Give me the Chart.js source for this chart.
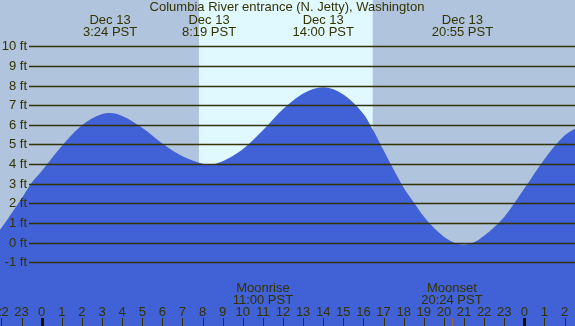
<!DOCTYPE html>
<html>
<head>
<meta charset="utf-8">
<script src="https://cdn.jsdelivr.net/npm/chart.js@4"></script>
<style>
html,body{margin:0;padding:0;background:#b0c4de;}
#wrap{width:575px;height:326px;position:relative;}
</style>
</head>
<body>
<div id="wrap"><canvas id="c" width="575" height="326"></canvas></div>
<script>
// ---- data ----
const title = "Columbia River entrance (N. Jetty), Washington";
const hours = [-2.1, -2, -1.5, -1, -0.5, 0, 1, 2, 3, 3.4, 4, 5, 6, 7, 8, 8.32, 9, 10, 11, 12, 13, 14, 15, 16, 16.5, 17, 17.5, 18, 18.5, 19, 19.5, 20, 20.5, 20.93, 21.5, 22, 22.5, 23, 23.5, 24, 25, 26, 26.6];
const heights = [0.62, 0.75, 1.5, 2.25, 3.05, 3.65, 4.92, 5.98, 6.55, 6.6, 6.45, 5.85, 5.05, 4.4, 4.02, 3.98, 4.15, 4.75, 5.72, 6.8, 7.6, 7.92, 7.55, 6.55, 5.7, 4.7, 3.72, 2.8, 2.06, 1.33, 0.75, 0.3, 0.0, -0.1, 0.02, 0.35, 0.78, 1.3, 2.0, 2.75, 4.25, 5.45, 5.85];
const yTicks = [-1, 0, 1, 2, 3, 4, 5, 6, 7, 8, 9, 10];
const hourTicks = [-2, -1, 0, 1, 2, 3, 4, 5, 6, 7, 8, 9, 10, 11, 12, 13, 14, 15, 16, 17, 18, 19, 20, 21, 22, 23, 24, 25, 26];
const eventHours = [3.4, 8.32, 14.0, 20.92];
const eventDates = ["Dec 13", "Dec 13", "Dec 13", "Dec 13"];
const eventTimes = ["3:24 PST", "8:19 PST", "14:00 PST", "20:55 PST"];
const dayStart = 7.82, dayEnd = 16.46;
const moonHours = [11.0, 20.4];
const moonNames = ["Moonrise", "Moonset"];
const moonTimes = ["11:00 PST", "20:24 PST"];

const FONT = '13px "Liberation Sans", Arial, sans-serif';
const TXT = '#333300';

const deco = {
  id: 'deco',
  beforeDatasetsDraw(chart) {
    const {ctx, chartArea: a, scales: {x}} = chart;
    ctx.save();
    ctx.fillStyle = '#b0c4de';
    ctx.fillRect(a.left, a.top, a.right - a.left, a.bottom - a.top);
    const x0 = x.getPixelForValue(dayStart), x1 = x.getPixelForValue(dayEnd);
    ctx.fillStyle = '#e0f8ff';
    ctx.fillRect(x0, a.top, x1 - x0, a.bottom - a.top);
    ctx.restore();
  },
  afterDatasetsDraw(chart) {
    const {ctx, chartArea: a, scales: {x, y}} = chart;
    ctx.save();
    ctx.font = FONT;
    ctx.fillStyle = TXT;
    ctx.strokeStyle = TXT;
    ctx.lineWidth = 1.5;
    ctx.textAlign = 'right';
    ctx.textBaseline = 'middle';
    yTicks.forEach(v => {
      const py = Math.round(y.getPixelForValue(v)) + 0.5;
      ctx.beginPath();
      ctx.moveTo(29, py);
      ctx.lineTo(a.right, py);
      ctx.stroke();
      ctx.fillText(v + ' ft', 27, py);
    });
    ctx.textAlign = 'center';
    ctx.fillText(title, 287, 7.5);
    eventHours.forEach((h, i) => {
      const px = x.getPixelForValue(h);
      ctx.fillText(eventDates[i], px, 20);
      ctx.fillText(eventTimes[i], px, 32);
    });
    moonHours.forEach((h, i) => {
      const px = x.getPixelForValue(h);
      ctx.fillText(moonNames[i], px, 288);
      ctx.fillText(moonTimes[i], px, 300);
      ctx.fillStyle = '#9a6a3a';
      ctx.fillRect(Math.round(px), 318, 1, 8);
      ctx.fillStyle = TXT;
    });
    hourTicks.forEach(h => {
      const px = x.getPixelForValue(h);
      const lab = String(((h % 24) + 24) % 24);
      ctx.fillStyle = TXT;
      ctx.fillText(lab, px, 312);
      if (h % 24 === 0) {
        ctx.fillStyle = '#111100';
        ctx.fillRect(Math.round(px) - 1, 318, 3, 8);
      } else {
        ctx.fillStyle = TXT;
        ctx.fillRect(Math.round(px), 318, 1, 8);
      }
    });
    ctx.restore();
  }
};

new Chart(document.getElementById('c'), {
  type: 'line',
  data: {
    datasets: [{
      data: hours.map((h, i) => ({x: h, y: heights[i]})),
      borderWidth: 0,
      borderColor: '#4161d6',
      backgroundColor: '#4161d6',
      fill: 'start',
      pointRadius: 0,
      cubicInterpolationMode: 'monotone'
    }]
  },
  options: {
    responsive: false,
    animation: false,
    events: [],
    layout: {padding: 0},
    plugins: {legend: {display: false}, tooltip: {enabled: false}, title: {display: false}},
    scales: {
      x: {type: 'linear', display: false, min: -2.074, max: 26.52},
      y: {type: 'linear', display: false, min: -4.25, max: 12.36}
    }
  },
  plugins: [deco]
});
</script>
</body>
</html>
